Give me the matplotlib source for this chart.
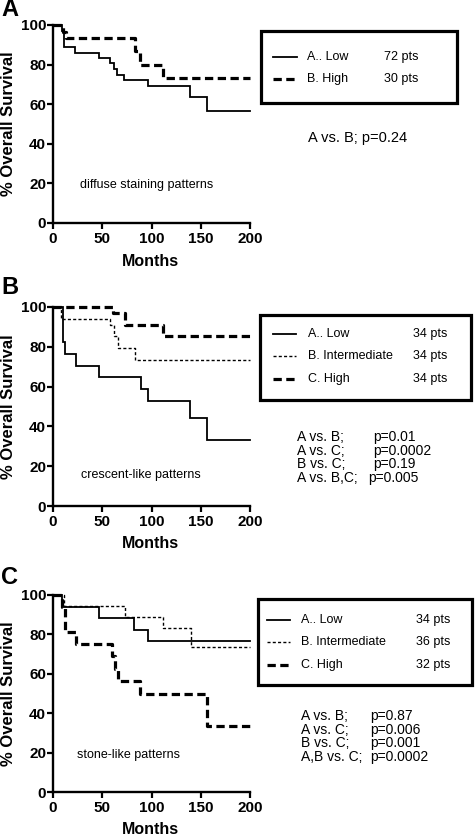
import matplotlib
matplotlib.use('Agg')
import matplotlib.pyplot as plt
from matplotlib.patches import Rectangle
from matplotlib.lines import Line2D

plt.rcParams['font.family'] = ['Liberation Sans', 'DejaVu Sans']

W, H = 475, 836

# survival curves (months, % survival)
a_low_t = [0, 9, 11, 22, 47, 58, 62, 65, 72, 96, 139, 156, 200]
a_low_s = [100, 97.2, 88.9, 86.1, 83.3, 80.6, 77.8, 75.0, 72.2, 69.4, 63.6, 56.5, 56.5]
a_high_t = [0, 10, 13, 83, 88, 112, 200]
a_high_s = [100, 96.7, 93.3, 86.7, 80.0, 73.3, 73.3]

b_low_t = [0, 10, 12, 23, 47, 89, 96, 139, 156, 200]
b_low_s = [100, 82.4, 76.5, 70.6, 64.7, 58.8, 52.9, 44.1, 33.1, 33.1]
b_int_t = [0, 8, 58, 62, 66, 83, 200]
b_int_s = [100, 94.1, 91.2, 85.3, 79.4, 73.5, 73.5]
b_high_t = [0, 61, 73, 112, 200]
b_high_s = [100, 97.1, 91.2, 85.3, 85.3]

c_low_t = [0, 9, 47, 82, 96, 200]
c_low_s = [100, 94.1, 88.2, 82.4, 76.5, 76.5]
c_int_t = [0, 11, 73, 112, 140, 200]
c_int_s = [100, 94.4, 88.9, 83.3, 73.6, 73.6]
c_high_t = [0, 9, 12, 23, 60, 63, 66, 88, 156, 200]
c_high_s = [100, 93.8, 81.3, 75.0, 68.8, 62.5, 56.3, 50.0, 33.3, 33.3]

x_ticks = [0, 50, 100, 150, 200]
y_ticks = [0, 20, 40, 60, 80, 100]

legend_a = [('A.. Low', '72 pts'), ('B. High', '30 pts')]
legend_b = [('A.. Low', '34 pts'), ('B. Intermediate', '34 pts'), ('C. High', '34 pts')]
legend_c = [('A.. Low', '34 pts'), ('B. Intermediate', '36 pts'), ('C. High', '32 pts')]

pvals_b = [('A vs. B;', 'p=0.01'), ('A vs. C;', 'p=0.0002'),
           ('B vs. C;', 'p=0.19'), ('A vs. B,C;', 'p=0.005')]
pvals_c = [('A vs. B;', 'p=0.87'), ('A vs. C;', 'p=0.006'),
           ('B vs. C;', 'p=0.001'), ('A,B vs. C;', 'p=0.0002')]

styles = {
    'solid': dict(color='black', lw=1.3, ls='-'),
    'dot': dict(color='black', lw=1.0, ls=(0, (2.2, 1.6))),
    'dash': dict(color='black', lw=2.3, ls=(0, (2.6, 1.4))),
}


def fx(px):
    return px / W


def fy(py):
    return 1 - py / H


fig = plt.figure(figsize=(W / 100, H / 100), dpi=100)


def make_axes(top, bottom, curves, note, note_xy, letter, letter_y):
    ax = fig.add_axes([fx(53), fy(bottom), fx(250) - fx(53), fy(top) - fy(bottom)])
    for t, s, st in curves:
        ax.step(t, s, where='post', clip_on=False, solid_joinstyle='miter', **styles[st])
    ax.set_xlim(0, 200)
    ax.set_ylim(0, 100)
    ax.set_xticks(x_ticks)
    ax.set_yticks(y_ticks)
    for sp in ['top', 'right']:
        ax.spines[sp].set_visible(False)
    for sp in ['left', 'bottom']:
        ax.spines[sp].set_linewidth(1.7)
    ax.tick_params(direction='out', length=4.5, width=1.6, labelsize=11)
    ax.tick_params(axis='x', pad=2)
    ax.tick_params(axis='y', pad=0.5)
    for lab in ax.get_xticklabels() + ax.get_yticklabels():
        lab.set_fontweight('bold')
    ax.set_ylabel('% Overall Survival', fontsize=12, fontweight='bold', labelpad=3)
    fig.text(fx(150), fy(bottom + 38), 'Months', fontsize=11.5, fontweight='bold',
             ha='center', va='center')
    fig.text(fx(note_xy[0]), fy(note_xy[1]), note, fontsize=9, ha='left', va='center')
    fig.text(fx(1), fy(letter_y), letter, fontsize=17, fontweight='bold',
             ha='left', va='center')
    return ax


def legend_box(x0, y0, x1, y1, rows, kinds, row_y, sx0, sx1, lx, cx):
    fig.patches.append(Rectangle((fx(x0), fy(y1)), fx(x1) - fx(x0), fy(y0) - fy(y1),
                                 transform=fig.transFigure, fill=False,
                                 lw=2.3, ec='black'))
    for (lab, cnt), k, yy in zip(rows, kinds, row_y):
        fig.lines.append(Line2D([fx(sx0), fx(sx1)], [fy(yy), fy(yy)],
                                transform=fig.transFigure, **styles[k]))
        fig.text(fx(lx), fy(yy), lab, fontsize=9, ha='left', va='center')
        fig.text(fx(cx), fy(yy), cnt, fontsize=9, ha='left', va='center')


# panel A
make_axes(25, 223, [(a_low_t, a_low_s, 'solid'), (a_high_t, a_high_s, 'dash')],
          'diffuse staining patterns', (80, 185), 'A', 10)
legend_box(261, 31, 457, 103, legend_a, ['solid', 'dash'], [57, 79], 273, 297, 307, 384)
fig.text(fx(308), fy(138), 'A vs. B; p=0.24', fontsize=10.5, ha='left', va='center')

# panel B
make_axes(307, 506, [(b_low_t, b_low_s, 'solid'), (b_int_t, b_int_s, 'dot'),
                     (b_high_t, b_high_s, 'dash')],
          'crescent-like patterns', (81, 475), 'B', 287)
legend_box(260, 315, 471, 400, legend_b, ['solid', 'dot', 'dash'], [334, 356, 379],
           273, 296, 308, 413)
for (lhs, rhs), yy, px in zip(pvals_b, [437, 451, 464, 478], [373, 373, 373, 368]):
    fig.text(fx(297), fy(yy), lhs, fontsize=10, ha='left', va='center')
    fig.text(fx(px), fy(yy), rhs, fontsize=10, ha='left', va='center')

# panel C
make_axes(595, 792, [(c_low_t, c_low_s, 'solid'), (c_int_t, c_int_s, 'dot'),
                     (c_high_t, c_high_s, 'dash')],
          'stone-like patterns', (77, 755), 'C', 577)
legend_box(258, 599, 472, 685, legend_c, ['solid', 'dot', 'dash'], [620, 642, 665],
           267, 290, 301, 416)
for (lhs, rhs), yy in zip(pvals_c, [716, 730, 743, 757]):
    fig.text(fx(301), fy(yy), lhs, fontsize=10, ha='left', va='center')
    fig.text(fx(370), fy(yy), rhs, fontsize=10, ha='left', va='center')

fig.savefig('out.png', dpi=100)
